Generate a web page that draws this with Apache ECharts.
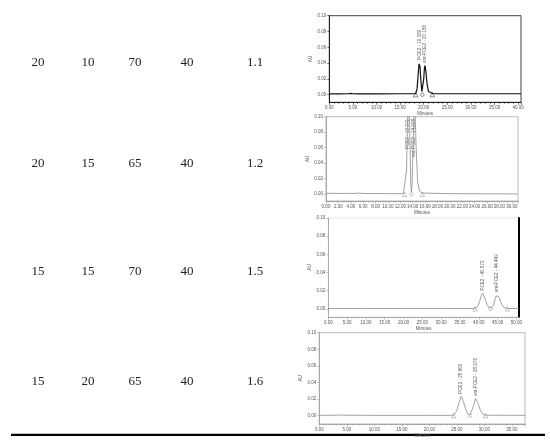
<!DOCTYPE html>
<html>
<head>
<meta charset="utf-8">
<script src="https://cdn.jsdelivr.net/npm/echarts@6/dist/echarts.min.js"></script>
<style>html,body{margin:0;padding:0;background:#fff}#c{width:550px;height:442px}</style>
</head>
<body>
<div id="c"></div>
<script>
// ---------- DATA ----------
const tableRows = [
  ["20", "10", "70", "40", "1.1"],
  ["20", "15", "65", "40", "1.2"],
  ["15", "15", "70", "40", "1.5"],
  ["15", "20", "65", "40", "1.6"]
];
const yTickValues = [0, 0.02, 0.04, 0.06, 0.08, 0.10];

// chromatogram 1
const c1Trace = [[0,0.001],[2,0.001],[4,0.0012],[4.5,0.0016],[5,0.0012],[6,0.001],[10,0.001],[15,0.0012],[17.5,0.0012],[18.3,0.0013],[18.6,0.008],[18.8,0.024],[19.0,0.039],[19.07,0.041],[19.2,0.036],[19.4,0.018],[19.6,0.004],[19.7,0.002],[19.85,0.006],[20.0,0.02],[20.15,0.034],[20.27,0.037],[20.45,0.030],[20.7,0.014],[21.0,0.004],[21.4,0.0015],[22,0.0012],[30,0.0012],[40.6,0.0012]];
const c1Peaks = [[19.07,0.041],[20.27,0.037]];
const c1PeakNames = ["PCE2 - 19.089", "ent-PCE2 - 20.186"];
const c1Triangles = [[18.3,0],[21.8,0]];
const c1Valleys = [[19.7,0]];

// chromatogram 2
const c2Trace = [[0,0.0012],[3,0.0010],[3.3,0.0018],[3.6,0.0010],[5,0.0012],[5.4,0.0017],[5.8,0.0010],[10,0.0008],[12.5,0.0008],[12.8,0.003],[13.0,0.03],[13.15,0.09],[13.35,0.14],[13.55,0.07],[13.7,0.012],[13.8,0.003],[13.9,0.012],[14.05,0.06],[14.3,0.13],[14.55,0.06],[14.8,0.015],[15.1,0.004],[15.6,0.0015],[20,0.0008],[25,0.0006],[31,0.0004]];
const c2Peaks = [[13.15,0.099],[14.15,0.099]];
const c2PeakNames = ["PCE2 - 13.371", "ent-PCE2 - 14.298"];
const c2Triangles = [[12.7,0],[15.56,0]];
const c2Valleys = [[13.8,0]];

// chromatogram 3
const c3Trace = [[0,0.0003],[10,0.0003],[20,0.0004],[30,0.0004],[38.5,0.0003],[39.2,0.0008],[39.8,0.003],[40.3,0.009],[40.7,0.015],[41.0,0.0173],[41.3,0.016],[41.7,0.011],[42.2,0.005],[42.7,0.0015],[43.1,0.0006],[43.5,0.0012],[43.9,0.004],[44.3,0.010],[44.6,0.014],[44.9,0.0154],[45.2,0.014],[45.6,0.010],[46.1,0.005],[46.7,0.0015],[47.4,0.0004],[50.7,0.0003]];
const c3Peaks = [[41.0,0.0173],[44.9,0.0154]];
const c3PeakNames = ["PCE2 - 40.872", "ent-PCE2 - 44.449"];
const c3Triangles = [[39.0,0],[47.6,0]];
const c3Valleys = [[43.1,0]];

// chromatogram 4
const c4Trace = [[0,0.0004],[3.5,0.0006],[4,0.0009],[4.5,0.0006],[10,0.0004],[20,0.0004],[24,0.0004],[24.5,0.001],[25.0,0.006],[25.4,0.016],[25.8,0.0234],[26.2,0.017],[26.6,0.008],[27.0,0.002],[27.4,0.0008],[27.7,0.003],[28.0,0.011],[28.4,0.0206],[28.8,0.016],[29.2,0.008],[29.7,0.002],[30.3,0.0006],[37.4,0.0004]];
const c4Peaks = [[25.8,0.0234],[28.4,0.0206]];
const c4PeakNames = ["PCE2 - 25.660", "ent-PCE2 - 28.276"];
const c4Triangles = [[24.4,0],[30.25,0]];
const c4Valleys = [[27.4,0]];

// ---------- LAYOUT ----------
const colX = [38, 88, 135, 187, 255];
const rowY = [63, 164, 272, 382];

const charts = [
  {trace:c1Trace, peaks:c1Peaks, names:c1PeakNames, tri:c1Triangles, val:c1Valleys,
   box:[329.3,15.7,521,102.3], xMax:40.6, xInt:5, yMin:-0.0096, color:'#111', axis:'#111', lw:1.2, border:'#111', labelMode:'top', nameGap:13, xNameGap:9},
  {trace:c2Trace, peaks:c2Peaks, names:c2PeakNames, tri:c2Triangles, val:c2Valleys,
   box:[326,116.7,518,201], xMax:31, xInt:2, yMin:-0.0087, color:'#8a8a8a', axis:'#9a9a9a', lw:0.8, border:'#aaa', labelMode:'down', nameGap:12, xNameGap:9},
  {trace:c3Trace, peaks:c3Peaks, names:c3PeakNames, tri:c3Triangles, val:c3Valleys,
   box:[328.3,218,519,317], xMax:50.7, xInt:5, yMin:-0.009, color:'#8a8a8a', axis:'#9a9a9a', lw:0.8, border:'#e0e0e0', labelMode:'top', nameGap:12, xNameGap:9, rightBar:true},
  {trace:c4Trace, peaks:c4Peaks, names:c4PeakNames, tri:c4Triangles, val:c4Valleys,
   box:[319.3,332.7,525,424], xMax:37.4, xInt:5, yMin:-0.01, color:'#8a8a8a', axis:'#9a9a9a', lw:0.8, border:'#aaa', labelMode:'top', nameGap:10, xNameGap:6.2}
];

const grids = [], xAxes = [], yAxes = [], series = [];
const tinyFont = 'Arial, "Liberation Sans", sans-serif';

charts.forEach((c, i) => {
  const [l, t, r, b] = c.box;
  grids.push({left:l, top:t, width:r-l, height:b-t, show:true, borderColor:c.border, borderWidth:0.8, backgroundColor:'transparent'});
  xAxes.push({
    type:'value', gridIndex:i, min:0, max:c.xMax, interval:c.xInt,
    name:'Minutes', nameLocation:'middle', nameGap:c.xNameGap,
    nameTextStyle:{fontSize:4.5, color:'#555', fontFamily:tinyFont},
    axisLine:{show:true, onZero:false, lineStyle:{color:c.axis, width:0.8}},
    axisTick:{show:true, length:2.5, lineStyle:{color:c.axis, width:0.6}},
    minorTick:{show:true, splitNumber:5, length:1.5, lineStyle:{color:c.axis, width:0.5}},
    splitLine:{show:false},
    axisLabel:{fontSize:4.5, color:'#555', margin:3, fontFamily:tinyFont, showMaxLabel:false,
      formatter: v => v.toFixed(2)}
  });
  yAxes.push({
    type:'value', gridIndex:i, min:c.yMin, max:0.10,
    name:'AU', nameLocation:'middle', nameGap:c.nameGap, nameRotate:90,
    nameTextStyle:{fontSize:4.5, color:'#555', fontFamily:tinyFont},
    axisLine:{show:true, onZero:false, lineStyle:{color:c.axis, width:0.8}},
    axisTick:{show:true, length:2, customValues:yTickValues, lineStyle:{color:c.axis, width:0.6}},
    splitLine:{show:false},
    axisLabel:{fontSize:4.5, color:'#555', margin:3, fontFamily:tinyFont, customValues:yTickValues,
      formatter: v => v.toFixed(2)}
  });
  if (c.rightBar) {
    yAxes.push({
      type:'value', gridIndex:i, min:c.yMin, max:0.10, position:'right',
      axisLine:{show:true, onZero:false, lineStyle:{color:'#000', width:2}},
      axisTick:{show:false}, axisLabel:{show:false}, splitLine:{show:false}
    });
  }
  const yIdx = yAxes.length - (c.rightBar ? 2 : 1);
  series.push({
    type:'line', xAxisIndex:i, yAxisIndex:yIdx, data:c.trace, showSymbol:false, symbol:'none',
    lineStyle:{color:c.color, width:c.lw}, clip:true, silent:true, animation:false
  });
  const lbl = c.labelMode === 'top'
    ? {show:true, position:'top', distance:2, rotate:90, align:'left', verticalAlign:'middle'}
    : {show:true, position:'bottom', distance:1, rotate:90, align:'right', verticalAlign:'middle'};
  series.push({
    type:'scatter', xAxisIndex:i, yAxisIndex:yIdx, symbolSize:1,
    itemStyle:{color:'rgba(0,0,0,0)'},
    data:c.peaks.map((p, k) => ({value:p, name:c.names[k]})),
    label:Object.assign(lbl, {formatter: p => p.name, fontSize:4.6, color:'#333', fontFamily:tinyFont}),
    labelLayout:{hideOverlap:false},
    animation:false, silent:true
  });
  series.push({
    type:'scatter', xAxisIndex:i, yAxisIndex:yIdx, symbol:'triangle', symbolSize:4.5,
    itemStyle:{color:'#fff', borderColor:c.color, borderWidth:0.6}, data:c.tri, animation:false, silent:true
  });
  series.push({
    type:'scatter', xAxisIndex:i, yAxisIndex:yIdx, symbol:'circle', symbolSize:3.5,
    itemStyle:{color:'#fff', borderColor:c.color, borderWidth:0.6}, data:c.val, animation:false, silent:true
  });
});

const graphics = [];
tableRows.forEach((row, ri) => {
  row.forEach((cell, ci) => {
    graphics.push({type:'text', x:colX[ci], y:rowY[ri],
      style:{text:cell, fill:'#222', font:'13px "Liberation Serif", "DejaVu Serif", serif', textAlign:'center', textVerticalAlign:'middle'}});
  });
});
graphics.push({type:'line', shape:{x1:11, y1:434.8, x2:545, y2:434.8}, style:{stroke:'#000', lineWidth:2.2}});

const chart = echarts.init(document.getElementById('c'), null, {renderer:'canvas'});
chart.setOption({
  animation:false,
  backgroundColor:'#fff',
  grid:grids, xAxis:xAxes, yAxis:yAxes, series:series, graphic:graphics
});
</script>
</body>
</html>
